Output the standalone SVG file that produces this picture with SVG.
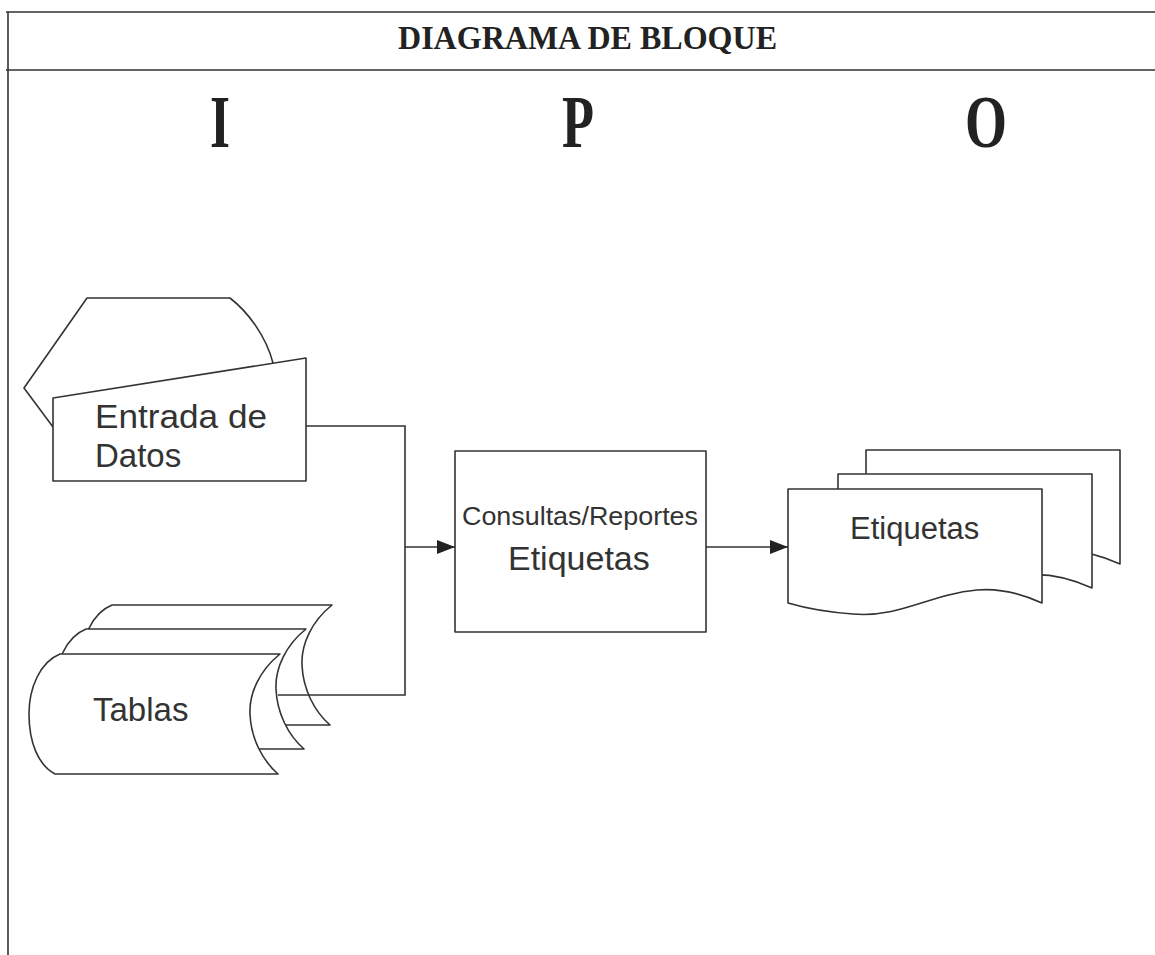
<svg xmlns="http://www.w3.org/2000/svg" width="1155" height="955" viewBox="0 0 1155 955">
<style>
.s{fill:#fff;stroke:#333;stroke-width:1.6;stroke-linejoin:round}
.c{fill:none;stroke:#333;stroke-width:1.6}
.t{font-family:"Liberation Sans",Arial,sans-serif;fill:#333}
.h{font-family:"Liberation Serif","Times New Roman",serif;font-weight:bold;fill:#222}
</style>
<defs>
<marker id="ar" markerWidth="18" markerHeight="14" refX="18" refY="7" orient="auto" markerUnits="userSpaceOnUse">
<path d="M0,0 L18,7 L0,14 Z" fill="#222"/>
</marker>
<path id="drum" d="M60,654 L280,654 C260,670 249,693 250,714 C251,738 262,760 278,774 L55,774 C38,765 29,742 29,714 C29,688 40,662 60,654 Z"/>
<path id="doc" d="M788,489 H1042 V603 C1020,593 1000,588 977,590 C930,594 900,618 853,614 C825,612 805,608 788,603 Z"/>
</defs>
<rect width="1155" height="955" fill="#fff"/>
<g id="frame">
<path d="M6,12 H1155 M6,70 H1155" class="c" stroke-width="2.2"/>
<path d="M8,12 V955" class="c"/>
<text x="398" y="49" class="h" font-size="33" textLength="379" lengthAdjust="spacingAndGlyphs">DIAGRAMA DE BLOQUE</text>
<text x="210" y="147" class="h" font-size="75" textLength="20" lengthAdjust="spacingAndGlyphs">I</text>
<text x="562" y="147" class="h" font-size="75" textLength="32" lengthAdjust="spacingAndGlyphs">P</text>
<text x="965" y="147" class="h" font-size="75" textLength="42" lengthAdjust="spacingAndGlyphs">O</text>
</g>
<g id="entrada">
<path class="s" d="M87,298 L230,298 C248,312 266,336 273,363 L273,430 L53,427 L24,388 Z"/>
<path class="s" d="M53,398 L306,358 L306,481 L53,481 Z"/>
<text x="95" y="428" class="t" font-size="33" textLength="172" lengthAdjust="spacingAndGlyphs">Entrada de</text>
<text x="95" y="467" class="t" font-size="33">Datos</text>
</g>
<g id="tablas">
<use href="#drum" class="s" transform="translate(52,-49)"/>
<use href="#drum" class="s" transform="translate(26,-25)"/>
<use href="#drum" class="s"/>
<text x="93" y="721" class="t" font-size="33">Tablas</text>
</g>
<g id="proceso">
<rect x="455" y="451" width="251" height="181" class="s"/>
<text x="462" y="525" class="t" font-size="25" textLength="236" lengthAdjust="spacingAndGlyphs">Consultas/Reportes</text>
<text x="508" y="570" class="t" font-size="34">Etiquetas</text>
</g>
<g id="salida">
<use href="#doc" class="s" transform="translate(78,-39)"/>
<use href="#doc" class="s" transform="translate(50,-15)"/>
<use href="#doc" class="s"/>
<text x="850" y="539" class="t" font-size="31">Etiquetas</text>
</g>
<g id="connectors">
<path class="c" d="M306,426 H405 V695 H278"/>
<path class="c" d="M405,547 H455" marker-end="url(#ar)"/>
<path class="c" d="M706,547 H788" marker-end="url(#ar)"/>
</g>
</svg>
